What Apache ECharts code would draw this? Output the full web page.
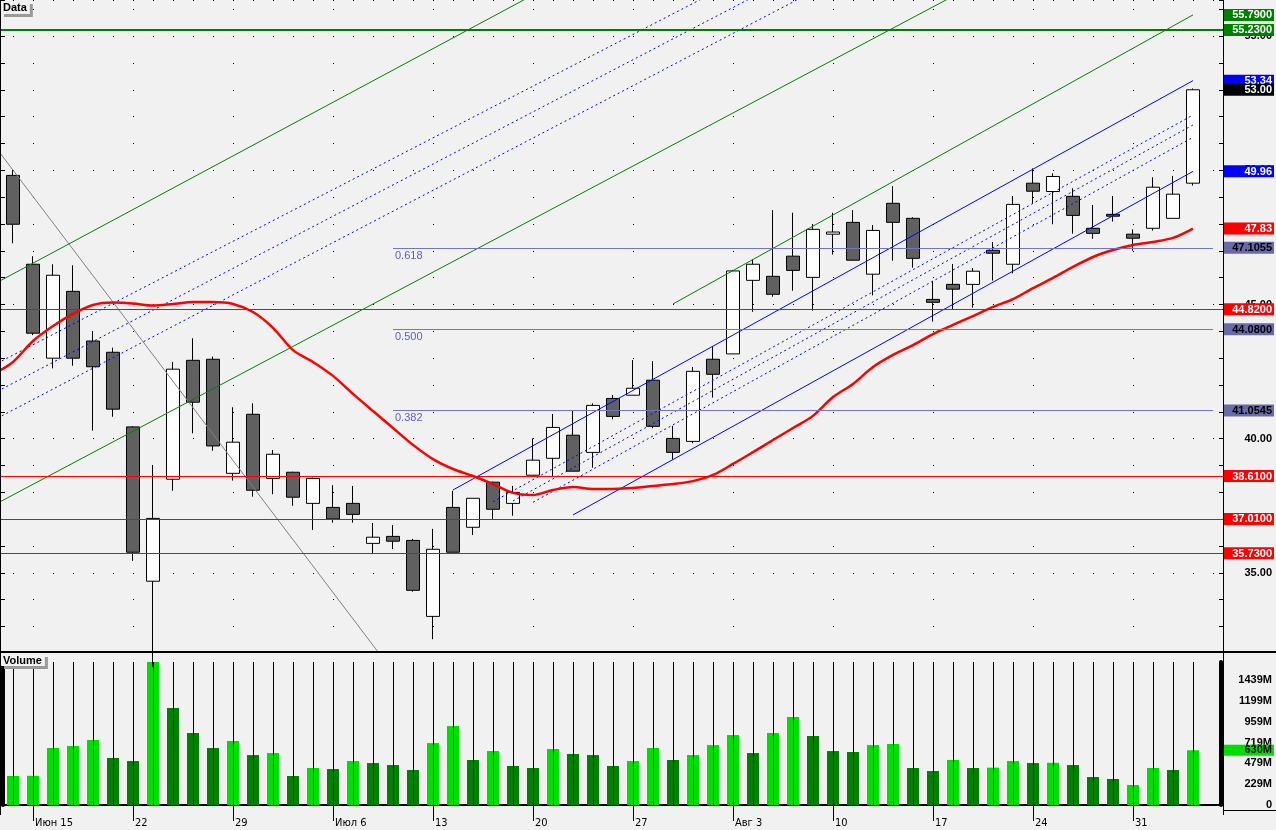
<!DOCTYPE html>
<html><head><meta charset="utf-8">
<script src="https://cdn.jsdelivr.net/npm/echarts@6/dist/echarts.min.js"></script>
<style>html,body{margin:0;padding:0;background:#f1f1f1;overflow:hidden}#c{width:1276px;height:830px}</style>
</head><body><div id="c"></div><script>
// ---------- data ----------
// trading days (first and last are empty padding days)
const dates = ['06-11','06-12','06-15','06-16','06-17','06-18','06-19','06-22','06-23','06-24','06-25','06-26','06-29','06-30',
'07-01','07-02','07-03','07-06','07-07','07-08','07-09','07-10','07-13','07-14','07-15','07-16','07-17','07-20','07-21','07-22','07-23','07-24','07-27','07-28','07-29','07-30','07-31',
'08-03','08-04','08-05','08-06','08-07','08-10','08-11','08-12','08-13','08-14','08-17','08-18','08-19','08-20','08-21','08-24','08-25','08-26','08-27','08-28','08-31',
'09-01','09-02','09-03','09-04'];
const xTickLabels = {'06-15':'Июн 15','06-22':'22','06-29':'29','07-06':'Июл 6','07-13':'13','07-20':'20','07-27':'27','08-03':'Авг 3','08-10':'10','08-17':'17','08-24':'24','08-31':'31'};

const opens  = [49.81,46.50,43.00,45.49,43.64,43.22,40.44,34.69,38.49,42.92,42.96,38.71,40.91,38.52,38.75,37.59,37.44,37.59,36.10,36.36,36.21,33.38,37.44,36.70,38.38,37.59,38.64,39.27,40.13,39.49,41.50,41.62,42.18,40.01,39.90,42.96,43.16,45.90,46.05,46.80,46.01,47.62,48.06,46.13,48.77,48.21,45.19,45.75,45.75,47.02,46.50,49.52,49.21,49.03,47.84,48.36,47.62,47.84,48.21,49.52];
const closes = [47.99,43.93,46.09,43.00,42.68,41.10,35.77,37.03,42.59,41.36,39.73,39.87,38.08,39.42,37.82,38.52,37.01,37.18,36.33,36.18,34.35,35.88,35.77,37.78,37.37,38.00,39.20,40.42,38.79,41.24,40.83,41.88,40.46,39.49,42.51,42.40,46.25,46.50,45.38,46.27,47.80,47.70,46.65,47.76,48.06,46.72,45.08,45.57,46.24,46.91,48.73,49.22,49.77,48.32,47.65,48.29,47.47,49.37,49.11,53.00];
const lows   = [47.28,43.86,42.62,42.72,40.30,40.82,35.45,31.50,38.06,40.20,39.55,38.44,37.84,37.93,37.50,36.60,36.87,36.87,35.70,35.89,34.30,32.53,35.77,36.41,37.01,37.13,38.64,38.61,38.79,38.92,40.72,41.62,40.39,39.21,39.83,41.53,43.16,44.73,45.29,45.51,44.77,46.86,46.63,45.34,46.63,46.37,44.36,44.83,44.88,45.89,46.16,48.77,47.99,47.64,47.45,48.09,47.00,47.75,48.21,49.43];
const highs  = [50.01,46.80,46.50,46.46,44.01,43.39,40.47,39.02,42.86,43.74,43.06,41.17,41.32,39.58,38.77,38.55,38.27,38.24,36.86,36.78,36.27,36.64,38.06,37.78,38.40,38.24,40.01,40.92,41.04,41.32,41.63,42.93,42.89,40.48,42.67,43.43,46.29,46.68,48.52,48.42,48.00,48.42,48.52,47.96,49.41,48.25,45.88,46.51,46.36,47.33,49.04,50.07,49.89,49.33,48.71,49.04,47.80,49.74,49.79,53.05];
// volume in millions
const volumes = [334,336,656,679,748,541,506,1646,1116,829,656,737,575,598,334,426,414,506,483,460,403,713,909,518,621,449,426,644,587,575,449,506,656,518,575,690,805,598,829,1013,794,621,610,690,702,426,391,518,426,430,506,483,486,460,322,299,230,426,403,630];
// volume bar direction as shown (U = light green, D = dark green)
const volumeDir = 'UUUUUDDUDDDUDUDUDUDDDUUDUDDUDDDUUDUUUDUUDDDUUDDUDUUDUDDDUUDU';
// moving average (red line), value at left edge then one per candle
const maLead = 42.4;
const maValues = [42.86,43.64,44.20,44.65,44.98,45.07,45.04,44.96,45.02,45.09,45.09,45.02,44.72,44.13,43.30,42.86,42.34,41.67,41.03,40.40,39.77,39.24,38.87,38.61,38.31,37.98,37.90,38.09,38.20,38.13,38.13,38.16,38.24,38.31,38.42,38.65,39.06,39.50,39.95,40.40,40.85,41.55,42.04,42.67,43.12,43.49,43.90,44.24,44.57,44.91,45.20,45.61,45.99,46.40,46.77,47.03,47.22,47.33,47.48,47.83];
// trend lines: [startBar, startPrice, endBar, endPrice]  (bar -1 = left padding day)
const greenLines    = [[-1,45.74,30,58.13],[-1,37.51,50,57.67],[33,45.02,59,55.79]];
const blueDashLeft  = [[-1,42.73,40,58.53],[-1,41.68,40,57.62],[-1,40.68,40,56.66]];
const channelSolid  = [[22,38.09,59,53.34],[28,37.16,59,49.96]];
const channelDash   = [[24,37.65,59,52.06],[25,37.68,59,51.69],[26,37.63,59,51.23]];
const grayLines     = [[-1,50.99,19,31.32]];
// horizontal levels
const greenLevels = [55.23];
const redLevels   = [44.82,38.61,37.01,35.73];
const fibRatios = ['0.618','0.500','0.382'];
const fibValues = [47.1055,44.08,41.0545];
const fibBars = [19,60];
const volTickLabels = ['0','229M','479M','719M','959M','1199M','1439M'];

// ---------- chart ----------
const FONT = '"Liberation Sans", Arial, sans-serif';
const NARROW = '"Liberation Sans Narrow", "DejaVu Sans Condensed", "Liberation Sans", Arial, sans-serif';
const priceMin = 32.09, priceMax = 56.345;
const volMax = 1646, volStep = 239.83;
const cat = i => dates[i + 1];
const nBars = opens.length;

const candleData = dates.map((d, k) => { const i = k - 1; return (i < 0 || i >= nBars) ? '-' : [opens[i], closes[i], lows[i], highs[i]]; });
const volData = dates.map((d, k) => { const i = k - 1; return (i < 0 || i >= nBars) ? '-' : volumes[i]; });
const maData = dates.map((d, k) => k === 0 ? maLead : (k - 1 < nBars ? maValues[k - 1] : '-'));
const isTick = (idx, val) => xTickLabels[val] !== undefined;

function segSeries(seg, lineStyle, z) {
  return { type: 'line', xAxisIndex: 0, yAxisIndex: 0, silent: true, symbol: 'none', z: z || 3,
    data: [[cat(seg[0]), seg[1]], [cat(seg[2]), seg[3]]], lineStyle: lineStyle, animation: false };
}
function tag(v, text, bg, fg, line) {
  return { yAxis: v,
    lineStyle: line || { color: 'rgba(0,0,0,0)', width: 0 },
    label: { show: true, position: 'end', distance: 1, formatter: '{v|' + text + '}', backgroundColor: bg, padding: [1, 2, 0, 0],
      rich: { v: { width: 48, align: 'right', color: fg, fontSize: 11, fontWeight: 'bold', fontFamily: FONT, lineHeight: 11 } } } };
}
const GREEN = '#008000', BLUE = '#0000ff', RED = '#ff0000', FIBBG = '#6a6aaa';

const tagData = [];
tagData.push(tag(greenLines[2][3], greenLines[2][3].toFixed(4), GREEN, '#fff'));
greenLevels.forEach(v => tagData.push(tag(v, v.toFixed(4), GREEN, '#fff', { color: GREEN, width: 2, type: 'solid' })));
tagData.push(tag(channelSolid[0][3], channelSolid[0][3].toFixed(2), BLUE, '#fff'));
tagData.push(tag(closes[nBars - 1], closes[nBars - 1].toFixed(2), '#000', '#fff'));
tagData.push(tag(channelSolid[1][3], channelSolid[1][3].toFixed(2), BLUE, '#fff'));
tagData.push(tag(maValues[nBars - 1], maValues[nBars - 1].toFixed(2), RED, '#fff'));
redLevels.forEach(v => tagData.push(tag(v, v.toFixed(4), RED, '#fff', { color: RED, width: 1, type: 'solid' })));
fibValues.forEach((v, k) => {
  tagData.push([
    { coord: [cat(fibBars[0]), v], lineStyle: { color: '#7474c4', width: 1, type: 'solid' },
      label: { show: true, position: 'insideStartBottom', distance: 2, formatter: fibRatios[k], color: '#5a5ad0', fontSize: 11, fontFamily: FONT } },
    { coord: [cat(fibBars[1]), v] }
  ]);
  tagData.push(tag(v, v.toFixed(4), FIBBG, '#000'));
});

const series = [];
series.push({ type: 'candlestick', xAxisIndex: 0, yAxisIndex: 0, data: candleData, barWidth: 13, z: 2, silent: true,
  itemStyle: { color: '#ffffff', color0: '#606060', borderColor: '#000', borderColor0: '#000', borderWidth: 1 } });
grayLines.forEach(s => series.push(segSeries(s, { color: '#808080', width: 1 })));
greenLines.forEach(s => series.push(segSeries(s, { color: GREEN, width: 1 })));
blueDashLeft.forEach(s => series.push(segSeries(s, { color: BLUE, width: 1, type: [2, 3] })));
channelSolid.forEach(s => series.push(segSeries(s, { color: BLUE, width: 1 })));
channelDash.forEach(s => series.push(segSeries(s, { color: BLUE, width: 1, type: [2, 3] })));
series.push({ type: 'line', xAxisIndex: 0, yAxisIndex: 0, data: maData, smooth: 0.3, symbol: 'none', silent: true, z: 4,
  lineStyle: { color: RED, width: 2.5 },
  markLine: { silent: true, symbol: ['none', 'none'], animation: false, emphasis: { disabled: true }, data: tagData } });
// volume panel
series.push({ type: 'line', xAxisIndex: 1, yAxisIndex: 3, data: [], silent: true, z: 1,
  markLine: { silent: true, symbol: ['none', 'none'], animation: false, label: { show: false }, emphasis: { disabled: true },
    lineStyle: { color: '#000', width: 1, type: 'solid' },
    data: dates.slice(1, nBars + 1).map(d => ({ xAxis: d })) } });
series.push({ type: 'bar', xAxisIndex: 1, yAxisIndex: 3, data: volData, barWidth: 12, z: 2, silent: true,
  itemStyle: { color: p => volumeDir.charAt(p.dataIndex - 1) === 'U' ? '#00dd00' : '#008000' },
  markLine: { silent: true, symbol: ['none', 'none'], animation: false, emphasis: { disabled: true },
    data: [{ yAxis: volumes[nBars - 1], lineStyle: { color: 'rgba(0,0,0,0)', width: 0 },
      label: { show: true, position: 'end', distance: 1, formatter: '{v|' + Math.round(volumes[nBars - 1]) + 'M}', backgroundColor: '#00dd00', padding: [0, 2, 0, 0],
        rich: { v: { width: 48, align: 'right', color: '#000', fontSize: 11, fontWeight: 'bold', fontFamily: FONT, lineHeight: 11 } } } }] } });

const boldLabel = { fontSize: 11, fontWeight: 'bold', color: '#000', fontFamily: FONT };
const option = {
  animation: false,
  backgroundColor: '#f1f1f1',
  title: [
    { text: 'Data', left: 1, top: 1, padding: [1, 3, 1, 2], backgroundColor: '#f1f1f1', shadowColor: '#9a9a9a', shadowOffsetX: 3, shadowOffsetY: 3, shadowBlur: 0,
      textStyle: Object.assign({ lineHeight: 11 }, boldLabel) },
    { text: 'Volume', left: 1, top: 654, padding: [1, 3, 0, 2], backgroundColor: '#f1f1f1', shadowColor: '#9a9a9a', shadowOffsetX: 3, shadowOffsetY: 3, shadowBlur: 0,
      textStyle: Object.assign({ lineHeight: 11 }, boldLabel) }
  ],
  grid: [
    { left: -17, top: 0, width: 1240, height: 651, outerBoundsMode: 'none', containLabel: false },
    { left: -17, top: 662, width: 1240, height: 143, outerBoundsMode: 'none', containLabel: false }
  ],
  xAxis: [
    { type: 'category', gridIndex: 0, data: dates, boundaryGap: true, show: false },
    { type: 'category', gridIndex: 1, data: dates, boundaryGap: true, offset: 10,
      axisLine: { show: true, lineStyle: { color: '#000', width: 2 } },
      axisTick: { show: true, alignWithLabel: true, interval: isTick, length: 16, lineStyle: { color: '#000', width: 1 } },
      axisLabel: { interval: isTick, formatter: d => xTickLabels[d] || '', align: 'left', padding: [0, 0, 0, 2], margin: 3, fontSize: 11, color: '#000', fontFamily: NARROW },
      splitLine: { show: false } }
  ],
  yAxis: [
    { type: 'value', gridIndex: 0, position: 'right', min: priceMin, max: priceMax, splitNumber: 5, minInterval: 5, maxInterval: 5,
      axisLine: { show: true, lineStyle: { color: '#000', width: 1 } },
      axisTick: { show: true, inside: true, length: 4, lineStyle: { color: '#000' } },
      axisLabel: Object.assign({ show: true, margin: 49, align: 'right', showMinLabel: false, showMaxLabel: false, formatter: v => v.toFixed(2) }, boldLabel),
      splitLine: { show: true, lineStyle: { color: '#000', width: 1, type: [1, 19], dashOffset: 10 } } },
    { type: 'value', gridIndex: 0, position: 'right', min: priceMin, max: priceMax, splitNumber: 24, minInterval: 1, maxInterval: 1,
      axisLine: { show: false }, axisLabel: { show: false },
      axisTick: { show: true, inside: true, length: 4, lineStyle: { color: '#000' } },
      splitLine: { show: true, lineStyle: { color: '#000', width: 1, type: [1, 99], dashOffset: 50 } } },
    { type: 'value', gridIndex: 0, position: 'left', offset: -17, min: priceMin, max: priceMax, splitNumber: 24, minInterval: 1, maxInterval: 1,
      axisLine: { show: true, lineStyle: { color: '#000', width: 1 } }, axisLabel: { show: false },
      axisTick: { show: true, inside: true, length: 5, lineStyle: { color: '#000' } },
      splitLine: { show: false } },
    { type: 'value', gridIndex: 1, position: 'right', offset: -2, min: 0, max: volMax, interval: volStep,
      axisLine: { show: true, lineStyle: { color: '#000', width: 4 } }, axisTick: { show: false },
      axisLabel: Object.assign({ show: true, margin: 51, align: 'right', showMaxLabel: false, formatter: v => volTickLabels[Math.round(v / volStep)] || '' }, boldLabel),
      splitLine: { show: false } },
    { type: 'value', gridIndex: 1, position: 'left', offset: -20, min: 0, max: volMax,
      axisLine: { show: true, lineStyle: { color: '#000', width: 4 } }, axisTick: { show: false }, axisLabel: { show: false }, splitLine: { show: false } }
  ],
  graphic: [
    { type: 'line', silent: true, z: 10, shape: { x1: 0.5, y1: 0, x2: 0.5, y2: 815 }, style: { stroke: '#000', lineWidth: 1 } },
    { type: 'line', silent: true, z: 10, shape: { x1: 1223.5, y1: 0, x2: 1223.5, y2: 815 }, style: { stroke: '#000', lineWidth: 1 } },
    { type: 'line', silent: true, z: 10, shape: { x1: 0, y1: 652, x2: 1276, y2: 652 }, style: { stroke: '#000', lineWidth: 2 } },
    { type: 'line', silent: true, z: 10, shape: { x1: 1223, y1: 810.5, x2: 1276, y2: 810.5 }, style: { stroke: '#000', lineWidth: 1 } }
  ],
  series: series
};
const chart = echarts.init(document.getElementById('c'), null, { renderer: 'canvas' });
chart.setOption(option);
</script></body></html>
